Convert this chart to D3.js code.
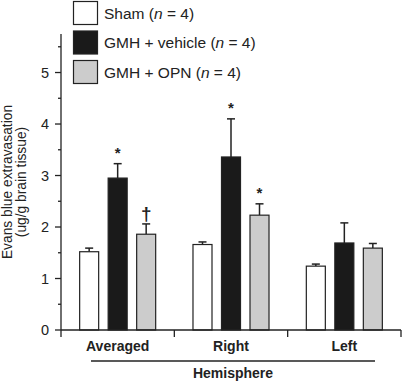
<!DOCTYPE html>
<html>
<head>
<meta charset="utf-8">
<script src="https://cdn.jsdelivr.net/npm/d3@7"></script>
<style>
  body { margin: 0; background: #fff; }
  text { font-family: "Liberation Sans", Arial, sans-serif; }
</style>
</head>
<body>
<div id="chart"></div>
<script>
// data
var groups = ["Averaged", "Right", "Left"];
var series = ["Sham", "GMH + vehicle", "GMH + OPN"];
var seriesN = [4, 4, 4];
var colors = ["#ffffff", "#1a1a1a", "#cccccc"];
var means = [
  [1.52, 1.66, 1.24],   // Sham
  [2.95, 3.36, 1.69],   // GMH + vehicle
  [1.86, 2.23, 1.59]    // GMH + OPN
];
var errs = [
  [0.07, 0.05, 0.04],
  [0.28, 0.74, 0.39],
  [0.20, 0.22, 0.09]
];
// significance marks: [series, group, symbol]
var marks = [[1, 0, "*"], [2, 0, "\u2020"], [1, 1, "*"], [2, 1, "*"]];
var majorTicks = [0, 1, 2, 3, 4, 5];
var minorTicks = [0.5, 1.5, 2.5, 3.5, 4.5, 5.5];

var width = 403, height = 382;
var svg = d3.select("#chart").append("svg")
  .attr("width", width).attr("height", height);

var y = d3.scaleLinear().domain([0, 5.75]).range([330, 33.9]);
var x0 = d3.scaleBand().domain(groups).range([61, 401]).padding(0);
var x1 = d3.scaleBand().domain(d3.range(series.length))
  .range([0, x0.bandwidth()]).paddingInner(0.298).paddingOuter(0.637);

// y axis
var yAxis = svg.append("g");
yAxis.append("line").attr("x1", 61).attr("x2", 61)
  .attr("y1", y(0)).attr("y2", y(5.75)).attr("stroke", "#222").attr("stroke-width", 1.3);
yAxis.selectAll(".maj").data(majorTicks).enter().append("line")
  .attr("x1", 55).attr("x2", 61).attr("y1", d => y(d)).attr("y2", d => y(d))
  .attr("stroke", "#222").attr("stroke-width", 1.3);
yAxis.selectAll(".min").data(minorTicks).enter().append("line")
  .attr("x1", 58).attr("x2", 61).attr("y1", d => y(d)).attr("y2", d => y(d))
  .attr("stroke", "#222").attr("stroke-width", 1.3);
yAxis.selectAll("text").data(majorTicks).enter().append("text")
  .attr("x", 49).attr("y", d => y(d)).attr("dy", "0.36em")
  .attr("text-anchor", "end").attr("font-size", 14.5).attr("fill", "#222")
  .text(d => d);

// y label
var yl = svg.append("text").attr("transform", "translate(12,182) rotate(-90)")
  .attr("text-anchor", "middle").attr("font-size", 13.8).attr("fill", "#222");
yl.append("tspan").attr("x", 0).attr("y", 0).text("Evans blue extravasation");
yl.append("tspan").attr("x", 0).attr("y", 14).text("(ug/g brain tissue)");

// bars
var gs = svg.selectAll(".grp").data(groups).enter().append("g")
  .attr("transform", d => "translate(" + x0(d) + ",0)");
series.forEach(function(s, si) {
  gs.append("line")
    .attr("x1", (d, gi) => x1(si) + x1.bandwidth() / 2)
    .attr("x2", (d, gi) => x1(si) + x1.bandwidth() / 2)
    .attr("y1", (d, gi) => y(means[si][gi]))
    .attr("y2", (d, gi) => y(means[si][gi] + errs[si][gi]))
    .attr("stroke", "#222").attr("stroke-width", 1.5);
  gs.append("line")
    .attr("x1", (d, gi) => x1(si) + x1.bandwidth() / 2 - 4)
    .attr("x2", (d, gi) => x1(si) + x1.bandwidth() / 2 + 4)
    .attr("y1", (d, gi) => y(means[si][gi] + errs[si][gi]))
    .attr("y2", (d, gi) => y(means[si][gi] + errs[si][gi]))
    .attr("stroke", "#222").attr("stroke-width", 1.5);
  gs.append("rect")
    .attr("x", x1(si) + 0.5)
    .attr("width", x1.bandwidth() - 1)
    .attr("y", (d, gi) => y(means[si][gi]))
    .attr("height", (d, gi) => y(0) - y(means[si][gi]))
    .attr("fill", colors[si]).attr("stroke", "#222").attr("stroke-width", 1.2);
});

// significance marks
svg.selectAll(".mark").data(marks).enter().append("text")
  .attr("x", d => x0(groups[d[1]]) + x1(d[0]) + x1.bandwidth() / 2)
  .attr("y", d => y(means[d[0]][d[1]] + errs[d[0]][d[1]]) - (d[2] == "*" ? 6 : 4))
  .attr("text-anchor", "middle")
  .attr("font-size", d => d[2] == "*" ? 15 : 19)
  .attr("font-weight", "bold").attr("fill", "#222")
  .text(d => d[2]);

// x axis
var xAxis = svg.append("g");
xAxis.append("line").attr("x1", 61).attr("x2", 401)
  .attr("y1", y(0)).attr("y2", y(0)).attr("stroke", "#222").attr("stroke-width", 1.3);
var edges = groups.map(g => x0(g)).concat([x0(groups[groups.length - 1]) + x0.bandwidth()]);
xAxis.selectAll(".sep").data(edges).enter().append("line")
  .attr("x1", d => d).attr("x2", d => d).attr("y1", y(0)).attr("y2", y(0) + 7)
  .attr("stroke", "#222").attr("stroke-width", 1.3);
xAxis.selectAll("text").data(groups).enter().append("text")
  .attr("x", d => x0(d) + x0.bandwidth() / 2).attr("y", 351)
  .attr("text-anchor", "middle").attr("font-size", 14).attr("font-weight", "bold")
  .attr("fill", "#222").text(d => d);
xAxis.append("line").attr("x1", 91).attr("x2", 375).attr("y1", 361).attr("y2", 361)
  .attr("stroke", "#222").attr("stroke-width", 1.3);
xAxis.append("text").attr("x", 233).attr("y", 378).attr("text-anchor", "middle")
  .attr("font-size", 14).attr("font-weight", "bold").attr("fill", "#222").text("Hemisphere");

// legend
var leg = svg.selectAll(".leg").data(series).enter().append("g")
  .attr("transform", (d, i) => "translate(73," + (1 + i * 29.5) + ")");
leg.append("rect").attr("x", 0.5).attr("y", 0.5).attr("width", 24).attr("height", 23)
  .attr("fill", (d, i) => colors[i]).attr("stroke", "#222").attr("stroke-width", 1.2);
var lt = leg.append("text").attr("x", 31).attr("y", 17.5).attr("font-size", 15.5).attr("fill", "#222");
lt.append("tspan").text(d => d + " (");
lt.append("tspan").attr("font-style", "italic").text("n");
lt.append("tspan").text((d, i) => " = " + seriesN[i] + ")");
</script>
</body>
</html>
